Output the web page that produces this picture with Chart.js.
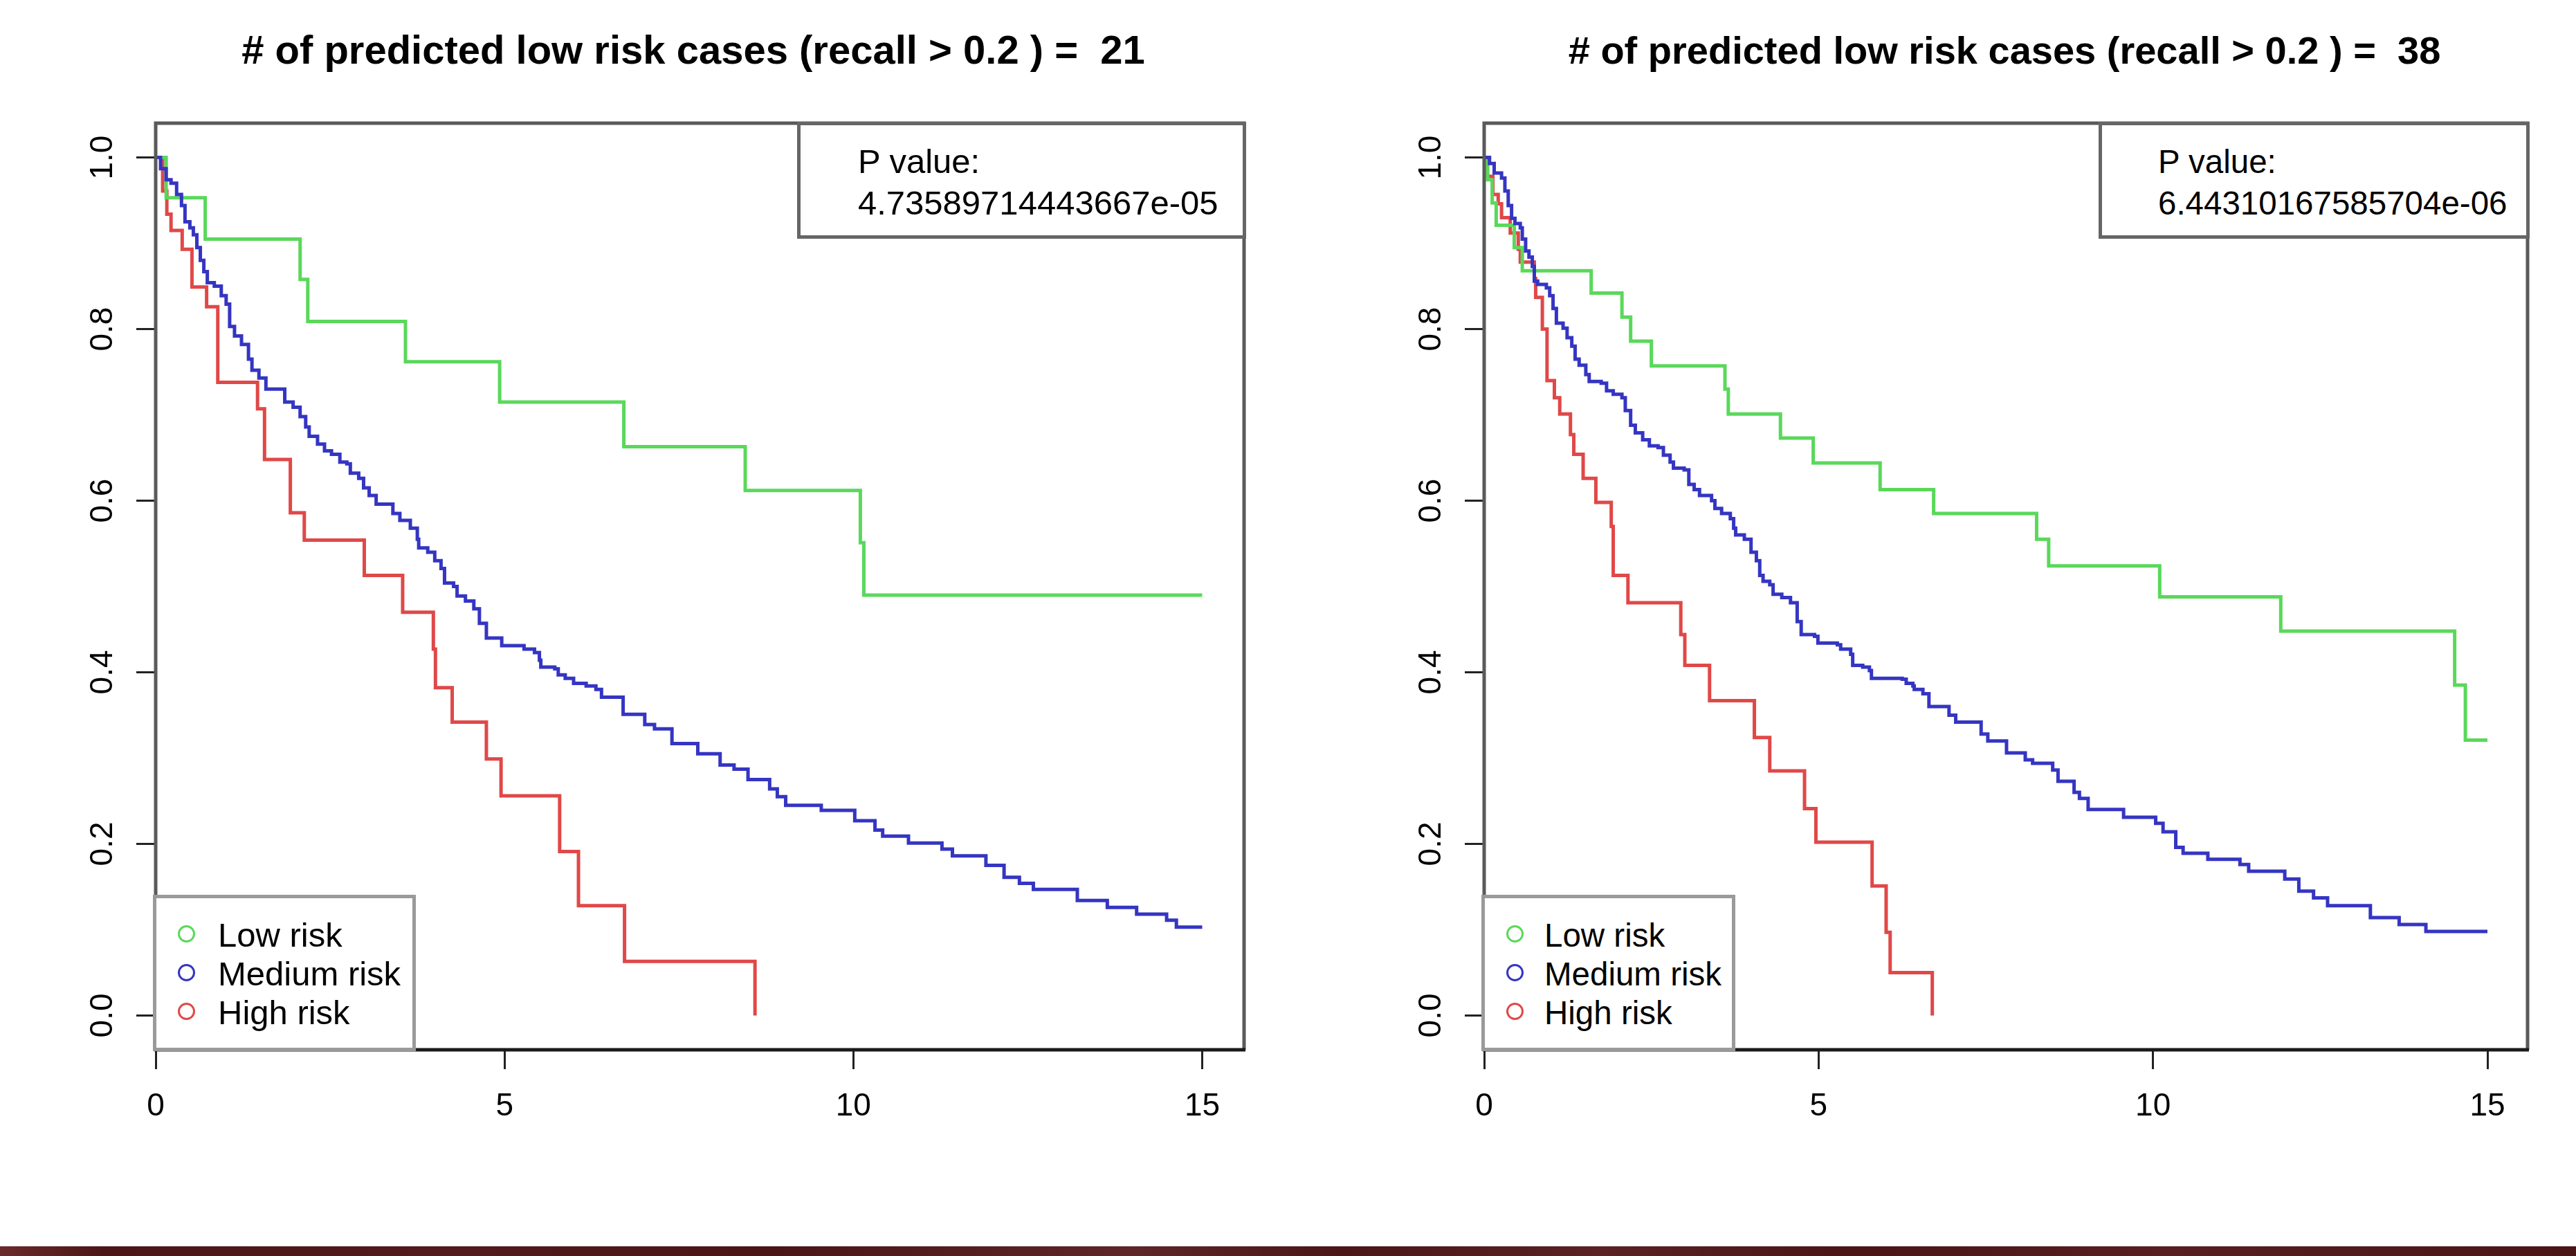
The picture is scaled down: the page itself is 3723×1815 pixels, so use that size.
<!DOCTYPE html>
<html>
<head>
<meta charset="utf-8">
<title>Kaplan-Meier curves by predicted risk group</title>
<script src="https://cdn.jsdelivr.net/npm/chart.js@4.4.1/dist/chart.umd.min.js"></script>
<style>
  body { margin: 0; background: #fff; }
  #page {
    position: relative; width: 3723px; height: 1815px; overflow: hidden; background: #fff;
    font-family: "Liberation Sans", Arial, Helvetica, sans-serif; color: #000;
  }
  #page canvas { position: absolute; top: 0; }
  .title { position: absolute; font-weight: bold; line-height: 1; text-align: center; white-space: pre; }
  .pbox { position: absolute; box-sizing: border-box; border: 5px solid #666; background: #fff; white-space: pre; }
  .legend { position: absolute; box-sizing: border-box; border: 5px solid #9a9a9a; background: #fff; }
  .legend .row { position: relative; white-space: pre; }
  .legend .dot { position: absolute; width: 25px; height: 25px; box-sizing: border-box; border: 3px solid; border-radius: 50%; }
  #strip {
    position: absolute; left: 0; top: 1801px; width: 3723px; height: 14px;
    background: linear-gradient(90deg, #6a2a2a 0%, #4c1616 4%, #521a1a 18%, #4a1515 30%, #5e2626 44%, #4a1616 52%,
                #5a2222 62%, #4b1515 72%, #571f1f 84%, #4a1515 100%);
  }
</style>
</head>
<body>
<div id="page">
  <canvas id="chart-left" width="1862" height="1800" style="left:0;width:1862px;height:1800px"></canvas>
  <canvas id="chart-right" width="1861" height="1800" style="left:1862px;width:1861px;height:1800px"></canvas>
  <div id="strip"></div>
</div>
<script>
// Kaplan-Meier survival by predicted risk group, two model settings side by side.
// Each curve: event times (T) and survival after each drop (S), drawn as step lines.

const xTicks      = [0, 5, 10, 15];
const yTicks      = [0, 0.2, 0.4, 0.6, 0.8, 1.0];
const yTickLabels = ["0.0", "0.2", "0.4", "0.6", "0.8", "1.0"];
const groups      = ["Low risk", "Medium risk", "High risk"];
const groupColours = ["#5ad85a", "#3535c2", "#e04848"];
const lowCounts   = [21, 38];
const pValues     = ["4.73589714443667e-05", "6.44310167585704e-06"];

// ─── Left panel ──────────────────────────────────────────────────────────────
const leftLowT = [0, 0.15, 0.71, 2.07, 2.18, 3.58, 4.93, 6.71, 8.45, 10.10, 10.15, 15.0];
const leftLowS = [1, 0.953, 0.905, 0.858, 0.809, 0.762, 0.715, 0.663, 0.612, 0.551, 0.490, 0.490];

const leftMedT = [0, 0.07, 0.15, 0.22, 0.30, 0.37, 0.42, 0.49, 0.54, 0.59, 0.64, 0.69, 0.74, 0.84, 0.94,
  1.01, 1.06, 1.13, 1.23, 1.33, 1.38, 1.48, 1.58, 1.85, 1.97, 2.07, 2.15, 2.20, 2.32, 2.42, 2.52, 2.64,
  2.74, 2.79, 2.91, 2.98, 3.06, 3.16, 3.40, 3.50, 3.65, 3.75, 3.77, 3.90, 4.00, 4.09, 4.14, 4.27, 4.32,
  4.44, 4.56, 4.64, 4.74, 4.96, 5.28, 5.43, 5.50, 5.52, 5.72, 5.77, 5.87, 5.99, 6.17, 6.31, 6.39, 6.70,
  7.01, 7.15, 7.40, 7.77, 8.09, 8.29, 8.49, 8.80, 8.91, 9.03, 9.54, 10.02, 10.31, 10.42, 10.79, 11.27,
  11.42, 11.90, 12.16, 12.38, 12.58, 13.21, 13.64, 14.06, 14.49, 14.63, 15.0];
const leftMedS = [1, 0.987, 0.974, 0.970, 0.957, 0.944, 0.925, 0.918, 0.910, 0.895, 0.880, 0.867, 0.854,
  0.850, 0.839, 0.829, 0.803, 0.792, 0.782, 0.765, 0.752, 0.743, 0.730, 0.715, 0.709, 0.698, 0.686, 0.675,
  0.666, 0.658, 0.654, 0.645, 0.643, 0.632, 0.626, 0.615, 0.606, 0.596, 0.585, 0.577, 0.568, 0.555, 0.545,
  0.540, 0.530, 0.521, 0.504, 0.500, 0.489, 0.483, 0.474, 0.457, 0.440, 0.431, 0.427, 0.423, 0.414, 0.406,
  0.404, 0.397, 0.393, 0.387, 0.384, 0.380, 0.371, 0.351, 0.339, 0.334, 0.317, 0.305, 0.292, 0.287, 0.275,
  0.264, 0.255, 0.245, 0.239, 0.227, 0.216, 0.209, 0.201, 0.194, 0.186, 0.175, 0.161, 0.154, 0.147, 0.134,
  0.126, 0.118, 0.111, 0.103, 0.103];

const leftHighT = [0, 0.10, 0.16, 0.22, 0.38, 0.52, 0.73, 0.89, 1.46, 1.56, 1.93, 2.13, 2.99, 3.54, 3.98,
  4.01, 4.25, 4.74, 4.95, 5.79, 6.06, 6.72, 8.59];
const leftHighS = [1, 0.961, 0.934, 0.915, 0.893, 0.849, 0.826, 0.738, 0.707, 0.648, 0.586, 0.554, 0.513,
  0.470, 0.427, 0.382, 0.342, 0.299, 0.256, 0.191, 0.128, 0.063, 0.0];

// ─── Right panel ─────────────────────────────────────────────────────────────
const rightLowT = [0, 0.05, 0.12, 0.18, 0.45, 0.57, 1.60, 2.06, 2.19, 2.50, 3.60, 3.65, 4.43, 4.92, 5.92,
  6.72, 8.26, 8.44, 10.10, 11.91, 14.51, 14.67, 15.0];
const rightLowS = [1, 0.974, 0.947, 0.921, 0.895, 0.868, 0.842, 0.814, 0.786, 0.757, 0.730, 0.701, 0.673,
  0.644, 0.613, 0.585, 0.555, 0.524, 0.488, 0.448, 0.385, 0.321, 0.321];

const rightMedT = [0, 0.08, 0.15, 0.26, 0.31, 0.36, 0.41, 0.46, 0.54, 0.57, 0.62, 0.67, 0.72, 0.75, 0.80,
  0.93, 0.98, 1.03, 1.08, 1.18, 1.24, 1.31, 1.36, 1.42, 1.52, 1.57, 1.75, 1.83, 1.93, 2.06, 2.11, 2.19,
  2.26, 2.37, 2.47, 2.60, 2.68, 2.78, 2.83, 2.99, 3.06, 3.14, 3.22, 3.40, 3.45, 3.55, 3.68, 3.73, 3.76,
  3.89, 3.99, 4.07, 4.12, 4.17, 4.27, 4.32, 4.45, 4.58, 4.68, 4.74, 4.94, 4.99, 5.28, 5.33, 5.48, 5.51,
  5.66, 5.76, 5.79, 6.25, 6.31, 6.41, 6.43, 6.56, 6.65, 6.95, 7.05, 7.43, 7.53, 7.81, 8.09, 8.20, 8.50,
  8.58, 8.82, 8.90, 9.03, 9.56, 10.04, 10.15, 10.34, 10.45, 10.82, 11.30, 11.43, 11.97, 12.18, 12.40,
  12.61, 13.25, 13.68, 14.08, 15.0];
const rightMedS = [1, 0.993, 0.982, 0.976, 0.961, 0.944, 0.929, 0.923, 0.918, 0.905, 0.891, 0.884, 0.873,
  0.856, 0.852, 0.848, 0.839, 0.824, 0.807, 0.801, 0.790, 0.780, 0.765, 0.758, 0.747, 0.739, 0.737, 0.728,
  0.724, 0.720, 0.705, 0.688, 0.679, 0.671, 0.664, 0.662, 0.653, 0.645, 0.638, 0.636, 0.619, 0.613, 0.606,
  0.600, 0.591, 0.585, 0.579, 0.568, 0.560, 0.555, 0.540, 0.530, 0.513, 0.506, 0.502, 0.491, 0.487, 0.481,
  0.459, 0.444, 0.442, 0.434, 0.432, 0.427, 0.421, 0.408, 0.406, 0.402, 0.393, 0.392, 0.387, 0.384, 0.380,
  0.375, 0.360, 0.350, 0.342, 0.328, 0.320, 0.306, 0.298, 0.294, 0.286, 0.273, 0.260, 0.253, 0.240, 0.231,
  0.224, 0.214, 0.196, 0.189, 0.182, 0.176, 0.168, 0.159, 0.145, 0.137, 0.128, 0.114, 0.106, 0.098, 0.098];

const rightHighT = [0, 0.05, 0.13, 0.21, 0.26, 0.39, 0.51, 0.54, 0.75, 0.77, 0.87, 0.94, 1.05, 1.13, 1.29,
  1.34, 1.48, 1.67, 1.90, 1.93, 2.15, 2.94, 3.00, 3.37, 4.04, 4.27, 4.79, 4.96, 5.80, 6.01, 6.07, 6.70];
const rightHighS = [1, 0.978, 0.957, 0.946, 0.930, 0.912, 0.893, 0.878, 0.859, 0.837, 0.800, 0.740, 0.720,
  0.701, 0.677, 0.654, 0.626, 0.598, 0.570, 0.513, 0.481, 0.444, 0.408, 0.367, 0.324, 0.285, 0.241, 0.202,
  0.151, 0.097, 0.050, 0.0];

// ─── Layout of the two panels (page pixels) ──────────────────────────────────
const FONT = '"Liberation Sans", Arial, Helvetica, sans-serif';
const PANELS = [
  { canvas: "chart-left",  offset: 0,    plotLeft: 225,  plotRight: 1798,
    curves: [[leftLowT, leftLowS], [leftMedT, leftMedS], [leftHighT, leftHighS]],
    titleSize: 58, titleCentre: 1002, textSize: 49, pBoxLeft: 1152, pTextX: 1240,
    legendRight: 601, dotX: 269, legendTextX: 315 },
  { canvas: "chart-right", offset: 1862, plotLeft: 2145, plotRight: 3653,
    curves: [[rightLowT, rightLowS], [rightMedT, rightMedS], [rightHighT, rightHighS]],
    titleSize: 56, titleCentre: 2897, textSize: 47.5, pBoxLeft: 3033, pTextX: 3119,
    legendRight: 2508, dotX: 2189, legendTextX: 2232 },
];
const PLOT_TOP = 178, PLOT_BOTTOM = 1517, CANVAS_H = 1800;

// box round the plot region + rotated y tick labels (R style)
const frame = {
  id: "frame",
  afterDatasetsDraw(chart) {
    const { ctx, chartArea: a, scales: { y } } = chart;
    ctx.save();
    ctx.lineWidth = 5;
    ctx.strokeStyle = "#5a5a5a";
    ctx.beginPath();
    ctx.moveTo(a.left, a.bottom); ctx.lineTo(a.left, a.top);
    ctx.lineTo(a.right, a.top); ctx.lineTo(a.right, a.bottom);
    ctx.stroke();
    ctx.strokeStyle = "#1a1a1a";
    ctx.beginPath(); ctx.moveTo(a.left - 2, a.bottom); ctx.lineTo(a.right + 2, a.bottom); ctx.stroke();

    ctx.fillStyle = "#000";
    ctx.font = "46px " + FONT;
    ctx.textAlign = "center";
    ctx.textBaseline = "alphabetic";
    y.ticks.forEach((t, i) => {
      ctx.save();
      ctx.translate(a.left - 63, y.getPixelForValue(t.value));
      ctx.rotate(-Math.PI / 2);
      ctx.fillText(yTickLabels[i], 0, 0);
      ctx.restore();
    });
    ctx.restore();
  },
};

function toPoints(t, s) {
  return t.map((x, i) => ({ x, y: s[i] }));
}

function makeChart(p) {
  const el = document.getElementById(p.canvas);
  const yWidth = p.plotLeft - p.offset;
  const padRight = el.width - (p.plotRight - p.offset);
  return new Chart(el, {
    type: "line",
    data: {
      datasets: groups.map((g, i) => ({
        label: g,
        data: toPoints(p.curves[i][0], p.curves[i][1]),
        borderColor: groupColours[i],
        backgroundColor: groupColours[i],
        borderWidth: 5,
        pointRadius: 0,
        stepped: true,
        fill: false,
        order: [1, 0, 2][i],
      })),
    },
    options: {
      responsive: false,
      animation: false,
      devicePixelRatio: 1,
      layout: { padding: { left: 0, top: PLOT_TOP, right: padRight, bottom: 0 } },
      plugins: { legend: { display: false }, tooltip: { enabled: false }, title: { display: false } },
      scales: {
        x: {
          type: "linear", min: 0, max: 15.6,
          afterBuildTicks: (s) => { s.ticks = xTicks.map((v) => ({ value: v })); },
          afterFit: (s) => { s.height = CANVAS_H - PLOT_BOTTOM; },
          ticks: { color: "#000", font: { family: FONT, size: 46 }, padding: 27, maxRotation: 0 },
          grid: { drawOnChartArea: false, drawTicks: true, tickLength: 28, tickWidth: 3, tickColor: "#222" },
          border: { display: false },
        },
        y: {
          type: "linear", min: -0.04, max: 1.04,
          afterBuildTicks: (s) => { s.ticks = yTicks.map((v) => ({ value: v })); },
          afterFit: (s) => { s.width = yWidth; },
          ticks: { display: false },
          grid: { drawOnChartArea: false, drawTicks: true, tickLength: 28, tickWidth: 3, tickColor: "#222" },
          border: { display: false },
        },
      },
    },
    plugins: [frame],
  });
}

// ─── Titles, P value boxes and legends (page overlays) ───────────────────────
function addOverlays(p, k) {
  const page = document.getElementById("page");

  const title = document.createElement("div");
  title.className = "title";
  title.style.fontSize = p.titleSize + "px";
  title.style.width = "2000px";
  title.style.left = (p.titleCentre - 1000) + "px";
  title.style.top = (92 - (p.titleSize * 0.8465)) + "px";
  title.textContent = "# of predicted low risk cases (recall > 0.2 ) =  " + lowCounts[k];
  page.appendChild(title);

  const pbox = document.createElement("div");
  pbox.className = "pbox";
  pbox.style.left = p.pBoxLeft + "px";
  pbox.style.top = (PLOT_TOP - 2) + "px";
  pbox.style.width = (p.plotRight + 3 - p.pBoxLeft) + "px";
  pbox.style.height = "169px";
  pbox.style.fontSize = p.textSize + "px";
  pbox.style.lineHeight = "60px";
  pbox.style.paddingLeft = (p.pTextX - p.pBoxLeft - 5) + "px";
  pbox.style.paddingTop = (250 - (30 - p.textSize * 0.5585 + p.textSize * 0.905) - PLOT_TOP - 3) + "px";
  pbox.textContent = "P value:\n" + pValues[k];
  page.appendChild(pbox);

  const legend = document.createElement("div");
  legend.className = "legend";
  const lLeft = p.plotLeft - 4;
  legend.style.left = lLeft + "px";
  legend.style.top = "1293px";
  legend.style.width = (p.legendRight - lLeft) + "px";
  legend.style.height = (PLOT_BOTTOM + 2 - 1293) + "px";
  legend.style.fontSize = p.textSize + "px";
  legend.style.lineHeight = "56px";
  const rowTop = 1368 - (28 - p.textSize * 0.5585 + p.textSize * 0.905);
  legend.style.paddingTop = (rowTop - 1298) + "px";
  groups.forEach((g, i) => {
    const row = document.createElement("div");
    row.className = "row";
    row.style.paddingLeft = (p.legendTextX - lLeft - 5) + "px";
    const dot = document.createElement("span");
    dot.className = "dot";
    dot.style.borderColor = groupColours[i];
    dot.style.left = (p.dotX - lLeft - 5 - 12.5) + "px";
    dot.style.top = (1350 - rowTop - 12.5) + "px";
    row.appendChild(dot);
    row.appendChild(document.createTextNode(g));
    legend.appendChild(row);
  });
  page.appendChild(legend);
}

PANELS.forEach((p, k) => {
  makeChart(p);
  addOverlays(p, k);
});
</script>
</body>
</html>
